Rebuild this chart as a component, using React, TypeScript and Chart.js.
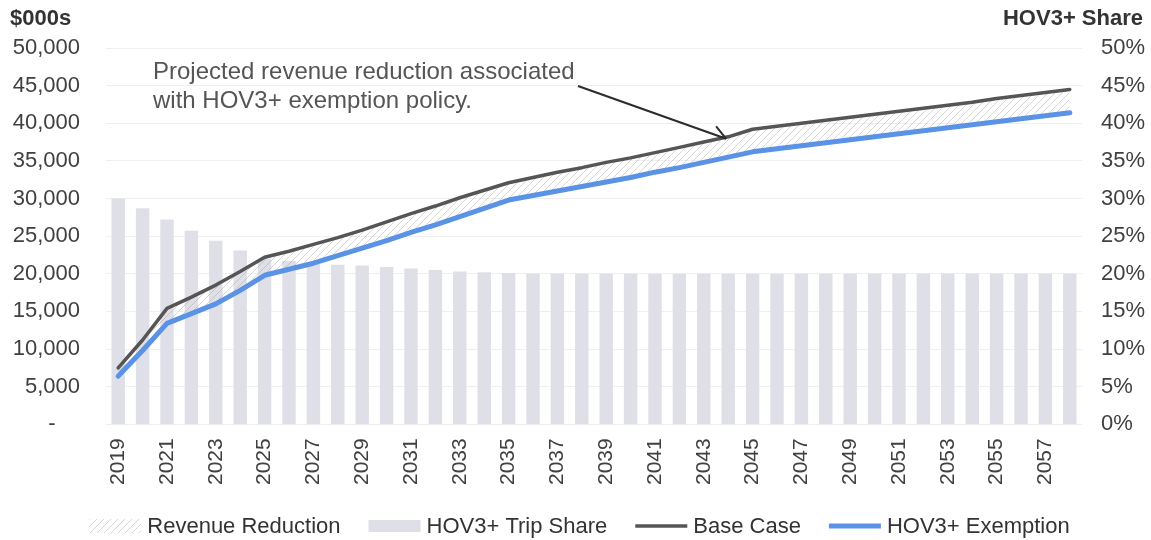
import React, { useEffect, useRef } from 'react';
import { Chart, registerables } from 'chart.js';

Chart.register(...registerables);

const years = [
  '2019', '2020', '2021', '2022', '2023', '2024', '2025', '2026', '2027', '2028',
  '2029', '2030', '2031', '2032', '2033', '2034', '2035', '2036', '2037', '2038',
  '2039', '2040', '2041', '2042', '2043', '2044', '2045', '2046', '2047', '2048',
  '2049', '2050', '2051', '2052', '2053', '2054', '2055', '2056', '2057', '2058',
];

// HOV3+ trip share (%), right axis
const tripShare = [
  30.0, 28.7, 27.2, 25.7, 24.4, 23.1, 22.0, 21.7, 21.4, 21.2,
  21.1, 20.9, 20.7, 20.5, 20.3, 20.2, 20.1, 20.0, 20.0, 20.0,
  20.0, 20.0, 20.0, 20.0, 20.0, 20.0, 20.0, 20.0, 20.0, 20.0,
  20.0, 20.0, 20.0, 20.0, 20.0, 20.0, 20.0, 20.0, 20.0, 20.0,
];

// Base case revenue ($000s)
const baseCase = [
  7500, 11200, 15400, 16900, 18500, 20300, 22200, 23000, 23900, 24800,
  25800, 26900, 28000, 29000, 30100, 31100, 32100, 32800, 33500, 34100,
  34800, 35400, 36100, 36800, 37500, 38200, 39200, 39600, 40000, 40400,
  40800, 41200, 41600, 42000, 42400, 42800, 43300, 43700, 44100, 44500,
];

// HOV3+ exemption revenue ($000s)
const exemption = [
  6400, 9800, 13400, 14700, 16000, 17800, 19800, 20600, 21400, 22400,
  23400, 24400, 25500, 26500, 27600, 28700, 29800, 30400, 31000, 31600,
  32200, 32800, 33500, 34100, 34800, 35500, 36200, 36600, 37000, 37400,
  37800, 38200, 38600, 39000, 39400, 39800, 40200, 40600, 41000, 41400,
];

const leftTitle = '$000s';
const rightTitle = 'HOV3+ Share';
const annotationLines = ['Projected revenue reduction associated', 'with HOV3+ exemption policy.'];
const seriesNames = ['Revenue Reduction', 'HOV3+ Trip Share', 'Base Case', 'HOV3+ Exemption'];

const FONT = '"Liberation Sans", Arial, Helvetica, sans-serif';

function makeHatch(): CanvasPattern | string {
  const c = document.createElement('canvas');
  c.width = 7;
  c.height = 7;
  const g = c.getContext('2d');
  if (!g) return 'rgba(200,200,200,0.4)';
  g.strokeStyle = 'rgba(160,160,160,0.55)';
  g.lineWidth = 0.8;
  g.beginPath();
  g.moveTo(0, 7);
  g.lineTo(7, 0);
  g.moveTo(-1, 1);
  g.lineTo(1, -1);
  g.moveTo(6, 8);
  g.lineTo(8, 6);
  g.stroke();
  return g.createPattern(c, 'repeat') || 'rgba(200,200,200,0.4)';
}

export default function App() {
  const canvasRef = useRef<HTMLCanvasElement | null>(null);

  useEffect(() => {
    const canvas = canvasRef.current;
    if (!canvas) return;
    const hatch = makeHatch();

    const overlay = {
      id: 'overlay',
      afterDraw(chart: any) {
        const ctx = chart.ctx as CanvasRenderingContext2D;
        const ds = chart.data.datasets;
        ctx.save();
        // axis titles
        ctx.fillStyle = '#333333';
        ctx.font = `bold 22px ${FONT}`;
        ctx.textBaseline = 'middle';
        ctx.textAlign = 'left';
        ctx.fillText(leftTitle, 10, 19);
        ctx.textAlign = 'right';
        ctx.fillText(rightTitle, 1143, 19);

        // annotation
        ctx.fillStyle = '#555555';
        ctx.font = `24px ${FONT}`;
        ctx.textAlign = 'left';
        ctx.fillText(annotationLines[0], 153, 72);
        ctx.fillText(annotationLines[1], 153, 101);

        // arrow to gap between lines
        const xs = chart.scales.x;
        const ys = chart.scales.y;
        const idx = years.indexOf('2044');
        const tx = xs.getPixelForValue(idx) - 2;
        const ty = ys.getPixelForValue(baseCase[idx]) + 2;
        const sx = 578;
        const sy = 86;
        ctx.strokeStyle = '#2b2b2b';
        ctx.lineWidth = 2;
        ctx.beginPath();
        ctx.moveTo(sx, sy);
        ctx.lineTo(tx, ty);
        const ang = Math.atan2(ty - sy, tx - sx);
        const ah = 16;
        ctx.moveTo(tx, ty);
        ctx.lineTo(tx - ah * Math.cos(ang + 0.55), ty - ah * Math.sin(ang + 0.55));
        ctx.stroke();

        // legend
        ctx.font = `22px ${FONT}`;
        const sw = 52;
        const gapIn = 6;
        const gapOut = 28;
        const widths = seriesNames.map((n) => ctx.measureText(n).width);
        const total = widths.reduce((a, b) => a + b, 0) + seriesNames.length * (sw + gapIn) + (seriesNames.length - 1) * gapOut;
        let x = (chart.width - total) / 2 + 4;
        const cy = 526;
        seriesNames.forEach((name, i) => {
          const d = ds[i];
          if (i === 0) {
            ctx.fillStyle = d.backgroundColor;
            ctx.fillRect(x, cy - 7, sw, 14);
          } else if (i === 1) {
            ctx.fillStyle = d.backgroundColor;
            ctx.fillRect(x, cy - 6, sw, 12);
          } else {
            ctx.strokeStyle = d.borderColor;
            ctx.lineWidth = d.borderWidth;
            ctx.lineCap = 'butt';
            ctx.beginPath();
            ctx.moveTo(x, cy);
            ctx.lineTo(x + sw, cy);
            ctx.stroke();
          }
          ctx.fillStyle = '#333333';
          ctx.textAlign = 'left';
          ctx.textBaseline = 'middle';
          ctx.fillText(name, x + sw + gapIn, cy + 1);
          x += sw + gapIn + widths[i] + gapOut;
        });
        ctx.restore();
      },
    };

    const chart = new Chart(canvas, {
      type: 'bar',
      data: {
        labels: years,
        datasets: [
          {
            type: 'line',
            label: seriesNames[0],
            data: baseCase,
            yAxisID: 'y',
            borderWidth: 0,
            borderColor: 'rgba(0,0,0,0)',
            pointRadius: 0,
            backgroundColor: hatch as any,
            fill: 3,
            order: 2,
          },
          {
            type: 'bar',
            label: seriesNames[1],
            data: tripShare,
            yAxisID: 'y1',
            backgroundColor: '#dfdfe8',
            borderWidth: 0,
            barPercentage: 0.55,
            categoryPercentage: 1,
            order: 3,
          },
          {
            type: 'line',
            label: seriesNames[2],
            data: baseCase,
            yAxisID: 'y',
            borderColor: '#555555',
            borderWidth: 3.5,
            pointRadius: 0,
            tension: 0,
            fill: false,
            borderCapStyle: 'round',
            borderJoinStyle: 'round',
            order: 1,
          },
          {
            type: 'line',
            label: seriesNames[3],
            data: exemption,
            yAxisID: 'y',
            borderColor: '#5a93e6',
            borderWidth: 5,
            pointRadius: 0,
            tension: 0,
            fill: false,
            borderCapStyle: 'round',
            borderJoinStyle: 'round',
            order: 0,
          },
        ] as any,
      },
      options: {
        animation: false,
        responsive: true,
        maintainAspectRatio: false,
        layout: { padding: { top: 48, left: 12, right: 4, bottom: 41 } },
        plugins: {
          legend: { display: false },
          tooltip: { enabled: false },
        },
        scales: {
          x: {
            type: 'category',
            offset: true,
            grid: { display: false, drawTicks: false },
            border: { display: false },
            ticks: {
              autoSkip: false,
              maxRotation: 90,
              minRotation: 90,
              padding: 14,
              color: '#404040',
              font: { family: FONT, size: 21 },
              callback: (_v: any, i: number) => (i % 2 === 0 ? years[i] : ''),
            },
          },
          y: {
            position: 'left',
            min: 0,
            max: 50000,
            grid: { color: '#efefef', drawTicks: false },
            border: { display: false },
            afterFit: (s: any) => { s.width = 94; },
            ticks: {
              stepSize: 5000,
              padding: 26,
              color: '#404040',
              font: { family: FONT, size: 22 },
              callback: (v: any) => (v === 0 ? '-    ' : Number(v).toLocaleString('en-US')),
            },
          },
          y1: {
            position: 'right',
            min: 0,
            max: 50,
            grid: { display: false, drawTicks: false },
            border: { display: false },
            afterFit: (s: any) => { s.width = 65; },
            ticks: {
              stepSize: 5,
              padding: 19,
              color: '#404040',
              font: { family: FONT, size: 22 },
              callback: (v: any) => `${v}%`,
            },
          },
        },
      } as any,
      plugins: [overlay],
    });

    return () => chart.destroy();
  }, []);

  return (
    <div style={{ position: 'fixed', left: 0, top: 0, width: 1151, height: 540, background: '#ffffff' }}>
      <canvas ref={canvasRef} />
    </div>
  );
}
